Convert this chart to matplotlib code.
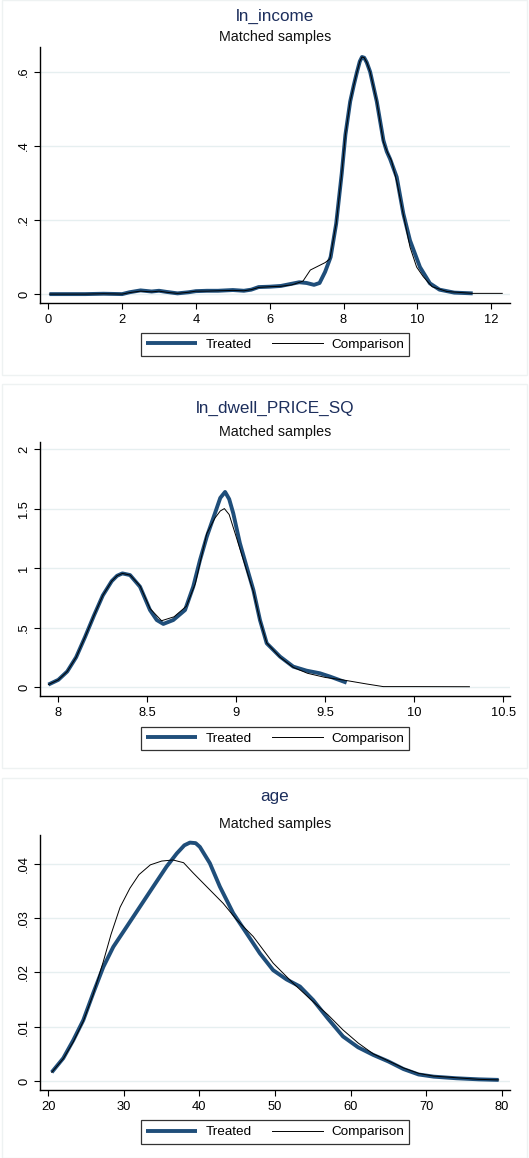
import matplotlib
matplotlib.use("Agg")
import matplotlib.pyplot as plt
from matplotlib.patches import Rectangle

plt.rcParams['font.family'] = ['Liberation Sans', 'DejaVu Sans']

# ---------------- data ----------------
# Panel 1: ln_income
inc_t_x = [0.03, 0.5, 1.0, 1.5, 2.0, 2.2, 2.5, 2.8, 3.0, 3.2, 3.5, 3.8, 4.0, 4.3, 4.6, 5.0, 5.3, 5.5, 5.7,
           6.0, 6.3, 6.6, 6.8, 7.0, 7.2, 7.35, 7.5, 7.65, 7.8, 7.95, 8.05, 8.18, 8.28, 8.36, 8.44, 8.5,
           8.56, 8.63, 8.72, 8.9, 9.08, 9.17, 9.26, 9.44, 9.62, 9.8, 10.07, 10.34, 10.6, 11.0, 11.5]
inc_t_y = [0.0, 0.0, 0.0, 0.001, 0.0, 0.005, 0.01, 0.007, 0.009, 0.006, 0.002, 0.005, 0.008, 0.009, 0.009,
           0.011, 0.009, 0.012, 0.019, 0.02, 0.022, 0.028, 0.032, 0.03, 0.025, 0.03, 0.06, 0.10, 0.19, 0.325,
           0.43, 0.52, 0.565, 0.598, 0.628, 0.640, 0.638, 0.625, 0.600, 0.52, 0.415, 0.385, 0.365, 0.316,
           0.217, 0.145, 0.073, 0.029, 0.012, 0.004, 0.002]
inc_c_x = [0.03, 0.5, 1.0, 1.5, 2.0, 2.2, 2.5, 2.8, 3.0, 3.2, 3.5, 3.8, 4.0, 4.3, 4.6, 5.0, 5.3, 5.5, 5.7,
           6.0, 6.3, 6.6, 6.9, 7.1, 7.3, 7.5, 7.63, 7.8, 7.95, 8.05, 8.18, 8.28, 8.36, 8.44, 8.5, 8.56,
           8.63, 8.72, 8.9, 9.08, 9.2, 9.3, 9.45, 9.65, 9.8, 9.98, 10.16, 10.4, 10.8, 11.5, 12.3]
inc_c_y = [0.0, 0.0, 0.0, 0.001, 0.0, 0.004, 0.008, 0.006, 0.008, 0.005, 0.002, 0.005, 0.008, 0.008, 0.009,
           0.010, 0.009, 0.012, 0.018, 0.02, 0.021, 0.025, 0.035, 0.065, 0.075, 0.085, 0.095, 0.19, 0.325,
           0.43, 0.52, 0.565, 0.598, 0.628, 0.640, 0.638, 0.625, 0.600, 0.52, 0.41, 0.38, 0.36, 0.30, 0.20,
           0.127, 0.073, 0.047, 0.02, 0.007, 0.002, 0.002]

# Panel 2: ln_dwell_PRICE_SQ
dw_t_x = [7.944, 8.0, 8.05, 8.1, 8.15, 8.2, 8.25, 8.3, 8.33, 8.36, 8.403, 8.459, 8.515, 8.553, 8.59, 8.646,
          8.712, 8.758, 8.796, 8.834, 8.88, 8.91, 8.937, 8.96, 8.983, 9.02, 9.058, 9.096, 9.133, 9.171,
          9.246, 9.32, 9.395, 9.47, 9.527, 9.62]
dw_t_y = [0.02, 0.06, 0.13, 0.25, 0.42, 0.6, 0.77, 0.89, 0.935, 0.955, 0.941, 0.843, 0.647, 0.563, 0.53,
          0.563, 0.647, 0.843, 1.067, 1.263, 1.46, 1.59, 1.64, 1.58, 1.46, 1.21, 1.011, 0.815, 0.563, 0.367,
          0.255, 0.171, 0.137, 0.115, 0.087, 0.036]
dw_c_x = [7.944, 8.0, 8.05, 8.1, 8.15, 8.2, 8.25, 8.3, 8.33, 8.36, 8.403, 8.459, 8.515, 8.58, 8.65, 8.72,
          8.77, 8.834, 8.88, 8.91, 8.933, 8.96, 9.0, 9.05, 9.096, 9.133, 9.171, 9.246, 9.32, 9.4, 9.5, 9.6,
          9.733, 9.826, 10.0, 10.31]
dw_c_y = [0.02, 0.06, 0.13, 0.25, 0.42, 0.6, 0.77, 0.89, 0.935, 0.955, 0.941, 0.85, 0.66, 0.557, 0.59, 0.68,
          0.87, 1.29, 1.42, 1.48, 1.50, 1.45, 1.26, 1.02, 0.80, 0.56, 0.37, 0.25, 0.165, 0.115, 0.08, 0.059,
          0.025, 0.003, 0.003, 0.002]

# Panel 3: age
age_t_x = [20.45, 21.98, 23.3, 24.63, 25.95, 27.28, 28.6, 30.37, 32.13, 33.89, 35.66, 37.0, 38.0, 38.74,
           39.5, 40.06, 41.38, 42.7, 44.47, 46.24, 48.0, 49.76, 51.53, 53.3, 55.05, 57, 59, 61, 63, 65, 67,
           69, 71, 74, 77, 79.6]
age_t_y = [0.0016, 0.0042, 0.0075, 0.0112, 0.0162, 0.021, 0.0247, 0.0284, 0.0321, 0.0358, 0.0395, 0.0419,
           0.0434, 0.0439, 0.0438, 0.0431, 0.0401, 0.0358, 0.0309, 0.0272, 0.0235, 0.0204, 0.0187, 0.0174,
           0.0149, 0.0115, 0.0082, 0.0062, 0.0048, 0.0036, 0.0022, 0.0012, 0.0008, 0.0005, 0.0003, 0.0002]
age_c_x = [20.45, 21.98, 23.3, 24.63, 25.95, 27.28, 28.3, 29.5, 30.8, 32.0, 33.5, 35.0, 36.5, 37.9, 39.18,
           40.95, 43.15, 44.92, 47.12, 49.76, 52.4, 55.05, 57, 59, 61, 63, 65, 67, 69, 71, 74, 77, 79.6]
age_c_y = [0.0016, 0.0041, 0.0072, 0.011, 0.016, 0.022, 0.027, 0.032, 0.0355, 0.038, 0.0398, 0.0405,
           0.0407, 0.0402, 0.0383, 0.0358, 0.0327, 0.0297, 0.0266, 0.0217, 0.018, 0.0146, 0.0122, 0.0094,
           0.007, 0.005, 0.0037, 0.0024, 0.0014, 0.0009, 0.0006, 0.0003, 0.0002]

titles = ["ln_income", "ln_dwell_PRICE_SQ", "age"]
subtitle = "Matched samples"
legend_labels = ["Treated", "Comparison"]

xt1 = [0, 2, 4, 6, 8, 10, 12]
yt1 = [0, 0.2, 0.4, 0.6]
yl1 = ["0", ".2", ".4", ".6"]
xt2 = [8, 8.5, 9, 9.5, 10, 10.5]
xl2 = ["8", "8.5", "9", "9.5", "10", "10.5"]
yt2 = [0, 0.5, 1, 1.5, 2]
yl2 = ["0", ".5", "1", "1.5", "2"]
xt3 = [20, 30, 40, 50, 60, 70, 80]
yt3 = [0, 0.01, 0.02, 0.03, 0.04]
yl3 = ["0", ".01", ".02", ".03", ".04"]

# ---------------- figure ----------------
W, H = 529, 1158
fig = plt.figure(figsize=(W / 100, H / 100), dpi=100)
fig.patch.set_facecolor("white")

def fy(py):
    return 1 - py / H

def fx(px):
    return px / W

TREAT_COL = "#1f4e7a"
TITLE_COL = "#1c2e5c"
GRID_COL = "#e6eff0"
FRAME_COL = "#eef2f2"

# panel frames
for (y0, y1) in [(0, 375), (384, 768), (778, 1158)]:
    fig.add_artist(Rectangle((fx(1.5), fy(y1)), fx(527) - fx(1.5), fy(y0) - fy(y1),
                             transform=fig.transFigure, fill=False, edgecolor=FRAME_COL, lw=1.0))

panels = [
    dict(top=47, bot=303, xlim=(-0.225, 12.51), ylim=(-0.024, 0.667), xt=xt1, xl=[str(v) for v in xt1],
         yt=yt1, yl=yl1, tx=(inc_t_x, inc_t_y), cx=(inc_c_x, inc_c_y), title_y=16, sub_y=37, leg_y=344.5),
    dict(top=442, bot=696, xlim=(7.897, 10.538), ylim=(-0.076, 2.06), xt=xt2, xl=xl2,
         yt=yt2, yl=yl2, tx=(dw_t_x, dw_t_y), cx=(dw_c_x, dw_c_y), title_y=408, sub_y=432, leg_y=738.5),
    dict(top=835, bot=1090, xlim=(18.9, 81.1), ylim=(-0.00166, 0.0453), xt=xt3, xl=[str(v) for v in xt3],
         yt=yt3, yl=yl3, tx=(age_t_x, age_t_y), cx=(age_c_x, age_c_y), title_y=796, sub_y=824, leg_y=1132),
]

for i, p in enumerate(panels):
    ax = fig.add_axes([fx(40), fy(p["bot"]), fx(510) - fx(40), fy(p["top"]) - fy(p["bot"])])
    ax.set_xlim(*p["xlim"])
    ax.set_ylim(*p["ylim"])
    for yv in p["yt"]:
        ax.axhline(yv, color=GRID_COL, lw=1.0, zorder=0)
    lt, = ax.plot(p["tx"][0], p["tx"][1], color=TREAT_COL, lw=2.8, solid_joinstyle="round",
                  solid_capstyle="butt", zorder=2)
    lc, = ax.plot(p["cx"][0], p["cx"][1], color="black", lw=0.7, solid_joinstyle="round", zorder=3)
    ax.set_xticks(p["xt"])
    ax.set_xticklabels(p["xl"])
    ax.set_yticks(p["yt"])
    ax.set_yticklabels(p["yl"], rotation=90, va="center")
    ax.tick_params(axis="both", direction="out", length=4, width=0.8, labelsize=9.3, pad=3)
    ax.tick_params(axis="x", pad=4)
    for s in ["top", "right"]:
        ax.spines[s].set_visible(False)
    for s in ["left", "bottom"]:
        ax.spines[s].set_linewidth(1.0)
    fig.text(fx(275), fy(p["title_y"]), titles[i], ha="center", va="center", fontsize=12.3, color=TITLE_COL)
    fig.text(fx(275), fy(p["sub_y"]), subtitle, ha="center", va="center", fontsize=10.3, color="#111111")
    leg = ax.legend([lt, lc], legend_labels, loc="center", bbox_to_anchor=(fx(275), fy(p["leg_y"])),
                    bbox_transform=fig.transFigure, ncol=2, fontsize=9.7, frameon=True, fancybox=False,
                    edgecolor="black", handlelength=3.8, handletextpad=0.6, columnspacing=1.5,
                    borderpad=0.4, borderaxespad=0)
    leg.get_frame().set_linewidth(0.9)

fig.savefig("out.png", dpi=100)
